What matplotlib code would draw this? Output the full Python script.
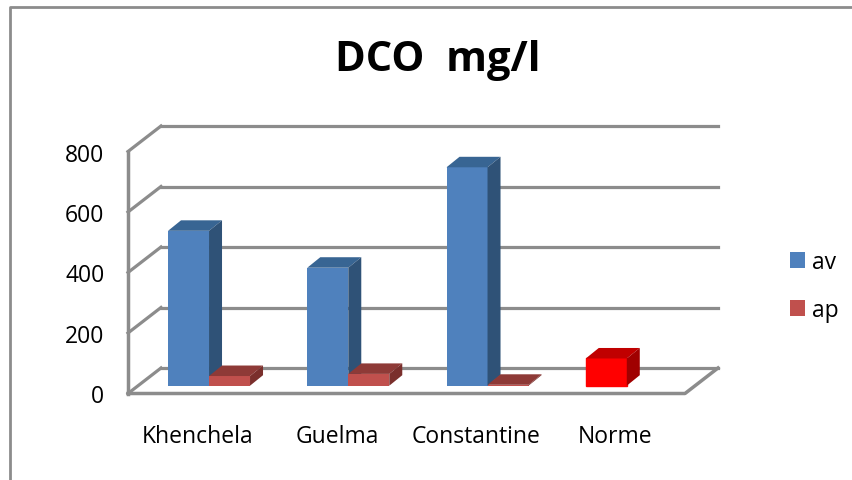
import numpy as np
import matplotlib
matplotlib.use("Agg")
import matplotlib.pyplot as plt
from matplotlib.lines import Line2D
from matplotlib.patches import Polygon

# ========================================
# Data
# ========================================
categories = ['Khenchela', 'Guelma', 'Constantine', 'Norme']
av_values = [512, 390, 722, 90]
ap_values = [32, 39, 3, 0]
y_ticks = [0, 200, 400, 600, 800]

plt.rcParams['font.family'] = ['Open Sans', 'DejaVu Sans']

W, H = 853, 481
fig = plt.figure(figsize=(W / 100, H / 100), dpi=100)

# Front plane of the fake 3D box, in pixels
left, right, top, bottom = 128, 685, 152.5, 394.5
ax = fig.add_axes([left / W, 1 - bottom / H, (right - left) / W, (bottom - top) / H])
ax.set_xlim(-0.5, 3.5)
ax.set_ylim(0, 800)

px_x = 4 / (right - left)      # data units per pixel
px_y = 800 / (bottom - top)

GRID = '#8c8c8c'
WALL_DX, WALL_DY = 33 * px_x, 25.5 * px_y
BAR_DX, BAR_DY = 13 * px_x, 10.5 * px_y
BAR_W = 41 * px_x
SHIFT_X, SHIFT_Y = 11.4 * px_x, 7.8 * px_y

# Walls and gridlines
for v in y_ticks:
    ax.plot([-0.5, -0.5 + WALL_DX], [v, v + WALL_DY], color=GRID, lw=2.3, clip_on=False, zorder=1)
    ax.plot([-0.5 + WALL_DX, 3.5 + WALL_DX], [v + WALL_DY, v + WALL_DY],
            color=GRID, lw=2.3, clip_on=False, zorder=1)
ax.plot([-0.5, -0.5], [0, 800], color=GRID, lw=2.5, clip_on=False, zorder=1)
ax.plot([-0.5, 3.5, 3.5 + WALL_DX], [0, 0, WALL_DY], color=GRID, lw=2.5, clip_on=False, zorder=1)


def draw_series(values, offset, front, top_col, side_col, z):
    x = np.arange(len(values)) + SHIFT_X + offset
    bars = ax.bar(x, values, BAR_W, bottom=SHIFT_Y, color=front, align='edge', zorder=z, clip_on=False)
    for xi, v, bar in zip(x, values, bars):
        if v <= 0:
            bar.set_visible(False)
            continue
        y0, y1 = SHIFT_Y, SHIFT_Y + v
        x1 = xi + BAR_W
        if xi > 2.5:
            # the norm is a single red point of the "av" series
            top_col, side_col = '#c00000', '#a00000'
            bar.set_color('#ff0000')
        ax.add_patch(Polygon([(xi, y1), (x1, y1), (x1 + BAR_DX, y1 + BAR_DY), (xi + BAR_DX, y1 + BAR_DY)],
                             color=top_col, lw=0, zorder=z, clip_on=False))
        ax.add_patch(Polygon([(x1, y0), (x1 + BAR_DX, y0 + BAR_DY), (x1 + BAR_DX, y1 + BAR_DY), (x1, y1)],
                             color=side_col, lw=0, zorder=z, clip_on=False))
    return bars


bars_av = draw_series(av_values, -BAR_W, '#4f81bd', '#386593', '#2f5277', 3)
bars_ap = draw_series(ap_values, 0, '#c0504d', '#8e3a37', '#7a2f2c', 4)

# Axes text
ax.set_xticks(range(len(categories)))
ax.set_xticklabels(categories, fontsize=16.5, color='black')
ax.set_yticks(y_ticks)
ax.set_yticklabels([str(v) for v in y_ticks], fontsize=16.5, color='black', va='center_baseline')
ax.tick_params(axis='x', length=0, pad=22)
ax.tick_params(axis='y', length=0, pad=17)
for s in ax.spines.values():
    s.set_visible(False)
ax.patch.set_alpha(0)

fig.text(438 / W, 1 - 61 / H, 'DCO  mg/l', fontsize=30, fontweight='bold', ha='center', va='center')

ax.legend([bars_av, bars_ap], ['av', 'ap'], loc='center left', frameon=False,
          bbox_to_anchor=(790 / W, 1 - 287 / H), bbox_transform=fig.transFigure,
          fontsize=16.5, handlelength=0.66, handleheight=0.66, handletextpad=0.3,
          labelspacing=1.05, borderpad=0, borderaxespad=0)

# Outer frame, only top and left are in the picture
fig.add_artist(Line2D([10.5 / W, 10.5 / W, 1], [0, 1 - 8 / H, 1 - 8 / H], color='#8c8c8c', lw=2))

fig.savefig('out.png', dpi=100)
